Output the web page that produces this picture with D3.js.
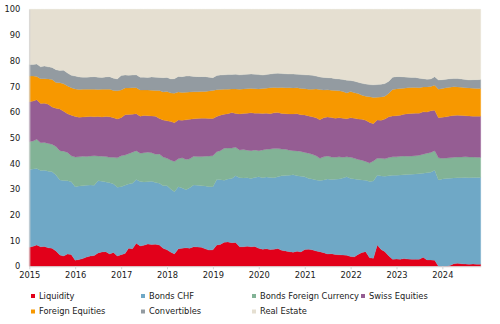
<!DOCTYPE html>
<html>
<head>
<meta charset="utf-8">
<script src="https://cdn.jsdelivr.net/npm/d3@7"></script>
<style>
  html, body { margin: 0; padding: 0; background: #ffffff; }
  svg { display: block; }
  text { font-family: "DejaVu Sans", Verdana, sans-serif; fill: #1a1a1a; }
</style>
</head>
<body>
<svg id="chart" width="500" height="324"></svg>
<script>
// Monthly observations, January 2015 to November 2024 (share of portfolio, %)
const startMonth = new Date(2015, 0, 1);
const monthCount = 119;

const seriesNames = ["Liquidity", "Bonds CHF", "Bonds Foreign Currency", "Swiss Equities",
                     "Foreign Equities", "Convertibles", "Real Estate"];
const seriesColors = ["#e2001a", "#6fa8c6", "#82b396", "#955d93", "#f79800", "#939ba1", "#e5dfd1"];

const liquidity = [
  7.4,7.8,8.3,7.6,7.7,7.2,7.0,6.0,4.4,4.0,4.8,4.6,
  2.4,2.6,3.0,3.6,4.0,4.2,5.2,5.6,5.7,4.8,5.4,4.0,
  4.5,5.0,7.0,6.8,9.0,7.9,8.2,8.7,8.5,8.6,8.3,7.0,
  6.4,5.5,4.8,6.8,7.0,7.2,7.0,7.6,7.5,7.4,6.8,6.3,
  6.4,8.3,8.5,9.4,9.5,9.2,9.3,7.6,7.6,7.8,7.6,7.7,
  7.0,6.6,6.8,6.5,6.6,6.9,6.2,6.0,5.7,5.5,5.9,5.6,
  6.5,6.6,6.4,6.0,5.7,5.3,4.8,4.9,4.6,4.5,4.4,4.3,
  3.8,3.7,4.6,5.4,5.7,3.3,3.1,8.3,6.5,5.7,4.0,2.7,
  2.8,2.7,3.0,2.8,2.7,2.7,2.7,3.5,2.5,2.5,2.4,0.0,
  0.0,0.0,0.3,1.0,1.2,1.0,0.9,0.8,0.9,0.8,0.8
];
const bondsCHF = [
  30.3,30.1,29.8,29.7,29.7,29.8,29.8,29.5,29.2,29.4,28.5,28.3,
  28.6,28.6,28.3,27.9,27.6,27.3,28.1,27.5,27.1,27.7,26.6,26.8,
  26.5,26.5,25.0,25.5,24.8,25.1,24.6,24.2,24.6,24.0,24.0,24.3,
  24.9,24.5,24.2,24.2,23.5,22.6,23.6,24.0,24.0,23.9,24.4,24.7,
  24.6,25.5,25.2,24.1,24.5,25.0,25.9,26.9,26.8,26.7,26.6,26.9,
  27.8,27.9,27.9,28.1,27.9,27.9,29.0,29.3,29.7,30.1,29.3,29.4,
  28.3,27.6,27.6,27.6,27.7,28.3,29.2,28.9,29.3,29.5,30.0,30.5,
  30.4,30.3,29.2,28.2,27.8,29.7,30.1,27.1,28.6,29.3,31.2,32.7,
  32.6,32.8,32.6,32.9,33.1,33.2,33.3,32.7,33.9,34.1,35.0,33.6,
  34.0,34.2,34.0,33.4,33.3,33.5,33.7,33.7,33.7,33.8,33.8
];
const bondsForeign = [
  10.8,10.9,11.3,10.8,10.8,10.8,10.7,11.1,11.4,11.4,11.0,10.1,
  11.5,11.4,11.5,11.2,11.3,11.5,9.6,9.7,9.9,9.9,10.4,11.4,
  12.0,11.8,11.8,12.1,11.2,11.0,11.4,11.5,11.1,11.0,11.4,11.2,
  10.7,11.3,11.8,10.8,11.7,11.8,11.2,11.2,11.2,11.4,11.6,11.9,
  12.0,10.8,11.3,12.4,12.0,11.8,11.1,10.8,11.0,10.7,10.8,10.7,
  10.2,10.8,10.8,11.0,11.3,11.0,10.4,10.2,9.8,9.4,9.7,9.7,
  9.5,9.8,9.6,9.4,8.6,9.0,8.9,8.7,8.5,8.6,8.0,7.8,
  8.2,8.0,7.8,7.7,7.3,7.2,7.8,6.6,6.9,6.8,7.1,7.2,
  7.2,7.3,7.3,7.1,7.1,7.1,7.2,7.4,7.6,7.7,7.6,8.6,
  8.0,7.9,7.9,8.0,8.0,8.0,8.0,8.0,7.9,7.8,7.8
];
const swissEquities = [
  15.5,15.5,15.4,15.2,15.2,15.3,14.5,14.9,16.2,15.5,15.1,15.8,
  15.8,15.4,15.3,15.5,15.4,15.2,15.4,15.3,15.6,15.8,15.4,15.1,
  14.8,15.7,15.3,14.8,14.4,14.4,14.5,14.2,14.3,14.8,13.8,14.4,
  14.6,15.0,15.1,15.1,14.6,15.4,15.4,14.6,14.8,14.9,14.8,14.6,
  14.5,13.7,13.8,13.3,13.4,13.8,13.2,14.0,14.1,14.4,14.7,14.3,
  14.6,14.2,14.1,13.8,13.9,14.0,13.9,13.9,14.1,14.3,14.5,14.3,
  14.6,14.5,14.6,14.8,15.0,15.2,15.2,15.4,15.2,15.2,15.2,14.8,
  15.4,15.6,15.7,15.9,16.0,15.8,14.5,14.9,14.8,15.5,15.9,15.9,
  16.0,16.0,16.3,16.6,16.6,16.6,16.4,16.5,16.0,16.2,15.7,15.6,
  16.0,16.1,16.3,16.3,16.3,16.2,16.0,16.0,15.9,16.0,16.0
];
const foreignEquities = [
  10.0,9.7,9.1,9.7,9.6,9.8,10.7,10.0,10.2,10.7,10.8,10.7,
  10.7,10.8,10.8,10.7,10.6,10.7,10.5,10.8,10.6,10.7,10.6,11.0,
  10.8,10.4,10.3,10.3,10.1,10.2,9.9,10.0,10.0,10.0,10.9,10.9,
  11.4,11.1,11.4,10.9,10.8,10.7,10.6,10.5,10.4,10.4,10.4,10.7,
  10.9,10.4,10.0,9.7,9.5,9.2,9.5,9.6,9.5,9.5,9.5,9.5,
  9.4,9.7,9.7,10.1,9.9,9.7,10.1,10.1,10.2,10.1,10.1,10.2,
  10.2,10.4,10.7,11.2,11.8,10.8,10.6,10.6,10.8,10.5,10.4,10.0,
  10.2,9.9,9.9,9.4,9.4,10.0,10.2,8.9,9.1,8.9,9.1,10.3,
  10.4,10.4,10.1,10.1,10.1,10.0,9.9,9.7,9.8,9.5,9.7,11.1,
  11.2,11.3,11.2,11.2,11.0,11.0,10.9,10.9,10.9,10.8,10.8
];
const convertibles = [
  4.5,4.5,4.8,4.6,4.9,4.7,4.7,5.0,4.8,5.3,5.0,4.8,
  5.0,4.9,4.7,4.7,4.8,4.9,4.8,4.6,4.8,4.9,4.8,4.6,
  5.6,5.0,4.9,4.9,5.0,5.0,5.0,4.9,5.2,5.2,5.1,5.6,
  5.5,5.5,5.7,6.1,6.2,6.3,6.2,6.0,5.9,5.8,5.8,5.4,
  5.0,5.5,5.6,5.6,5.7,5.6,5.7,5.6,5.6,5.6,5.6,5.6,
  5.6,5.2,5.3,5.3,5.4,5.6,5.4,5.4,5.3,5.4,5.2,5.4,
  5.4,5.5,5.4,5.0,4.9,4.9,4.7,4.8,4.6,4.6,4.7,5.0,
  4.3,4.5,4.4,4.6,4.7,4.7,4.9,4.9,4.9,4.9,4.7,4.8,
  4.8,4.6,4.4,4.1,3.9,3.9,3.7,3.2,3.0,2.9,3.4,3.6,
  3.4,3.3,3.3,3.2,3.3,3.2,3.2,3.1,3.3,3.4,3.5
];
const realEstate = [
  21.5,21.5,21.3,22.4,22.1,22.4,22.6,23.5,23.8,23.7,24.8,25.7,
  26.0,26.3,26.4,26.4,26.3,26.2,26.4,26.5,26.3,26.2,26.8,27.1,
  25.8,25.6,25.7,25.6,25.5,26.4,26.4,26.5,26.3,26.4,26.5,26.6,
  26.5,27.1,27.0,26.1,26.2,26.0,26.0,26.1,26.2,26.2,26.2,26.4,
  26.6,25.8,25.6,25.5,25.4,25.4,25.3,25.5,25.4,25.3,25.2,25.3,
  25.4,25.6,25.4,25.2,25.0,24.9,25.0,25.1,25.2,25.2,25.3,25.4,
  25.5,25.6,25.7,26.0,26.3,26.5,26.6,26.7,27.0,27.1,27.3,27.6,
  27.7,28.0,28.4,28.8,29.1,29.3,29.4,29.3,29.2,28.9,28.0,26.4,
  26.2,26.2,26.3,26.4,26.5,26.5,26.8,27.0,27.2,27.1,26.2,27.5,
  27.4,27.2,27.0,26.9,26.9,27.1,27.3,27.5,27.4,27.4,27.3
];

const yTicks = [0, 10, 20, 30, 40, 50, 60, 70, 80, 90, 100];
const xTickYears = [2015, 2016, 2017, 2018, 2019, 2020, 2021, 2022, 2023, 2024];

const seriesValues = [liquidity, bondsCHF, bondsForeign, swissEquities,
                      foreignEquities, convertibles, realEstate];

const months = d3.range(monthCount).map(i => d3.timeMonth.offset(startMonth, i));
const rows = months.map((date, i) => {
  const r = { date };
  seriesNames.forEach((name, k) => { r[name] = seriesValues[k][i]; });
  return r;
});

const svg = d3.select("#chart");
const margin = { left: 29.3, right: 19.3, top: 9.3, bottom: 57.7 };
const W = 500, H = 324;

const x = d3.scaleTime()
  .domain([months[0], months[months.length - 1]])
  .range([margin.left, W - margin.right]);
const y = d3.scaleLinear()
  .domain([0, 100])
  .range([H - margin.bottom, margin.top]);

const stack = d3.stack().keys(seriesNames);
const layers = stack(rows);

const area = d3.area()
  .x(d => x(d.data.date))
  .y0(d => y(d[0]))
  .y1(d => y(d[1]))
  .curve(d3.curveLinear);

svg.append("g")
  .selectAll("path")
  .data(layers)
  .join("path")
  .attr("d", area)
  .attr("fill", (d, i) => seriesColors[i])
  .attr("stroke", (d, i) => seriesColors[i])
  .attr("stroke-width", 0.3);

// Y axis
const yAxis = d3.axisLeft(y).tickValues(yTicks).tickSize(0).tickPadding(9);
const gy = svg.append("g").attr("transform", `translate(${margin.left},0)`).call(yAxis);
gy.select(".domain").attr("stroke", "#d4d4d4").attr("stroke-width", 1);
gy.selectAll("text").attr("font-size", "8.3px").attr("font-family", "DejaVu Sans").attr("fill", "#1a1a1a");

// X axis
const xAxis = d3.axisBottom(x)
  .tickValues(xTickYears.map(yr => new Date(yr, 0, 1)))
  .tickFormat(d3.timeFormat("%Y"))
  .tickSize(3).tickSizeOuter(0).tickPadding(3);
const gx = svg.append("g").attr("transform", `translate(0,${y(0)})`).call(xAxis);
gx.select(".domain").attr("stroke", "#d4d4d4").attr("stroke-width", 1);
gx.selectAll(".tick line").attr("stroke", "#d4d4d4");
gx.selectAll("text").attr("font-size", "8.3px").attr("font-family", "DejaVu Sans").attr("fill", "#1a1a1a");

// Legend
const legendCols = [31, 141, 252, 361];
const legendRows = [296, 311.5];
const legend = svg.append("g");
seriesNames.forEach((name, i) => {
  const col = i % 4, row = Math.floor(i / 4);
  const g = legend.append("g").attr("transform", `translate(${legendCols[col]},${legendRows[row]})`);
  g.append("rect").attr("x", 0).attr("y", -2).attr("width", 4).attr("height", 4).attr("fill", seriesColors[i]);
  g.append("text").attr("x", 8).attr("y", 0).attr("dy", "0.35em")
    .attr("font-size", "8.3px").text(name);
});
</script>
</body>
</html>
